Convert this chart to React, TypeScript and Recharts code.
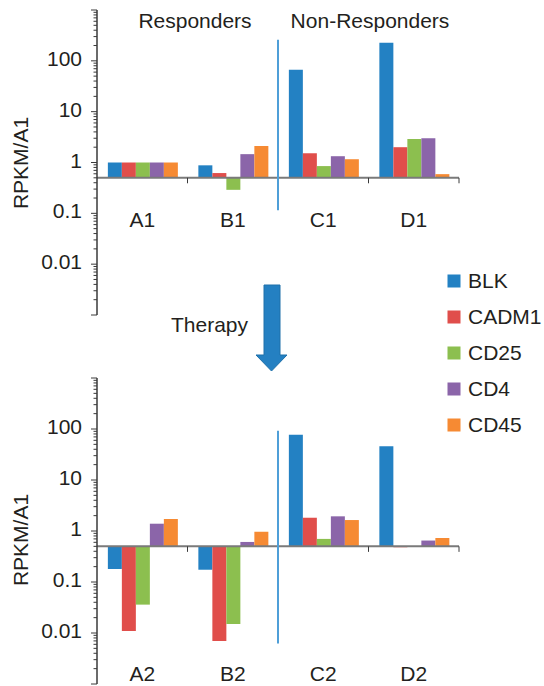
import { Bar, BarChart, ReferenceLine, XAxis, YAxis } from "recharts";

const genes = ["BLK", "CADM1", "CD25", "CD4", "CD45"];
const colors = ["#2381c3", "#e04e4b", "#8cbf4f", "#8b65a9", "#f68a33"];

const beforeSamples = ["A1", "B1", "C1", "D1"];
const afterSamples = ["A2", "B2", "C2", "D2"];

// RPKM relative to A1, one value per sample
const blkBefore = [1.0, 0.88, 67, 228];
const cadm1Before = [1.0, 0.62, 1.52, 2.0];
const cd25Before = [1.0, 0.29, 0.85, 2.9];
const cd4Before = [1.0, 1.46, 1.33, 3.0];
const cd45Before = [1.0, 2.1, 1.16, 0.59];

const blkAfter = [0.18, 0.174, 77, 46];
const cadm1After = [0.011, 0.007, 1.82, 0.48];
const cd25After = [0.036, 0.015, 0.7, null];
const cd4After = [1.39, 0.61, 1.94, 0.65];
const cd45After = [1.72, 0.97, 1.64, 0.73];

const majorTicks = [0.001, 0.01, 0.1, 1, 10, 100, 1000];
const labelledTicks = [0.01, 0.1, 1, 10, 100];

// bars start at 0.5 on the log axis (where the category axis crosses)
const BASE = 0.5;

const FONT = '"Liberation Sans", Arial, sans-serif';
const TEXT = "#231f20";

const minorTicks: number[] = [];
majorTicks.slice(0, -1).forEach((d) => {
  for (let m = 1; m < 10; m++) minorTicks.push(d * m);
});
const yTicks = [...minorTicks, 1000];

function buildRows(samples: string[], series: (number | null)[][]) {
  return samples.map((s, i) => {
    const row: Record<string, any> = { sample: s };
    genes.forEach((g, j) => {
      const v = series[j][i];
      row[g] = v == null ? null : [Math.min(BASE, v), Math.max(BASE, v)];
    });
    return row;
  });
}

const beforeRows = buildRows(beforeSamples, [blkBefore, cadm1Before, cd25Before, cd4Before, cd45Before]);
const afterRows = buildRows(afterSamples, [blkAfter, cadm1After, cd25After, cd4After, cd45After]);

const isMajor = (v: number) => Math.abs(Math.log10(v) - Math.round(Math.log10(v))) < 1e-9;

function LogTick(props: any) {
  const { x, y, payload } = props;
  const v = payload.value as number;
  const major = isMajor(v);
  const label = labelledTicks.find((t) => Math.abs(t - v) / t < 1e-9);
  return (
    <g>
      <line x1={x} x2={x - (major ? 6 : 3.5)} y1={y} y2={y} stroke="#3a3a3a" strokeWidth={1} />
      {label !== undefined && (
        <text x={x - 15} y={y + 5} textAnchor="end" fontSize={21} fill={TEXT} fontFamily={FONT}>
          {String(label)}
        </text>
      )}
    </g>
  );
}

function SampleTick(props: any) {
  const { x, y, payload, shift } = props;
  return (
    <text x={x} y={y + shift} textAnchor="middle" fontSize={21} fill={TEXT} fontFamily={FONT}>
      {payload.value}
    </text>
  );
}

function Panel({ rows, samples, height, top, bottom, shift, sep }: any) {
  const bounds = [
    { cat: samples[1], pos: "start" },
    { cat: samples[2], pos: "start" },
    { cat: samples[3], pos: "start" },
    { cat: samples[3], pos: "end" },
  ];
  return (
    <BarChart
      width={544}
      height={height}
      data={rows}
      margin={{ top, right: 85, bottom, left: 0 }}
      barCategoryGap="12%"
      barGap={0}
    >
      <XAxis
        dataKey="sample"
        height={1}
        axisLine={false}
        tickLine={false}
        tickSize={0}
        tickMargin={0}
        interval={0}
        tick={(p: any) => <SampleTick {...p} shift={shift} />}
      />
      <YAxis
        scale="log"
        domain={[0.001, 1000]}
        allowDataOverflow
        ticks={yTicks}
        interval={0}
        width={97}
        tickSize={0}
        tickMargin={0}
        tickLine={false}
        axisLine={{ stroke: "#3a3a3a", strokeWidth: 1.5 }}
        tick={LogTick}
      />
      {genes.map((g, i) => (
        <Bar key={g} dataKey={g} fill={colors[i]} isAnimationActive={false} />
      ))}
      <ReferenceLine y={BASE} stroke="#7a7a7a" strokeWidth={2} />
      {bounds.map((b, k) => (
        <ReferenceLine
          key={k}
          position={b.pos as any}
          stroke="#3a3a3a"
          strokeWidth={1}
          segment={[
            { x: b.cat, y: BASE },
            { x: b.cat, y: 0.39 },
          ]}
        />
      ))}
      <ReferenceLine
        position="start"
        stroke="#4f9fd8"
        strokeWidth={2}
        segment={[
          { x: samples[2], y: sep[0] },
          { x: samples[2], y: sep[1] },
        ]}
      />
    </BarChart>
  );
}

export default function App() {
  return (
    <div
      style={{
        position: "absolute",
        left: 0,
        top: 0,
        width: 544,
        height: 686,
        overflow: "hidden",
        fontFamily: FONT,
        background: "#fff",
      }}
    >
      <div style={{ position: "absolute", left: 0, top: 0 }}>
        <Panel rows={beforeRows} samples={beforeSamples} height={330} top={10} bottom={14} shift={-88} sep={[260, 0.115]} />
      </div>
      <div style={{ position: "absolute", left: 0, top: 360 }}>
        <Panel rows={afterRows} samples={afterSamples} height={326} top={18} bottom={1} shift={-3} sep={[92, 0.0062]} />
      </div>
      <svg width={544} height={686} style={{ position: "absolute", left: 0, top: 0, pointerEvents: "none" }}>
        <g fontFamily={FONT} fontSize={21} fill={TEXT}>
          <text x={195} y={28} textAnchor="middle">Responders</text>
          <text x={370} y={28} textAnchor="middle">Non-Responders</text>
          <text x={28} y={163} textAnchor="middle" transform="rotate(-90 28 163)">RPKM/A1</text>
          <text x={28} y={540} textAnchor="middle" transform="rotate(-90 28 540)">RPKM/A1</text>
          <text x={248} y={332} textAnchor="end">Therapy</text>
          {genes.map((g, i) => (
            <g key={g}>
              <rect x={447.5} y={274.5 + i * 36} width={13} height={13} fill={colors[i]} />
              <text x={468} y={288 + i * 36}>{g}</text>
            </g>
          ))}
        </g>
        <polygon
          points="264,285 280,285 280,355 287,355 271.5,371 256,355 264,355"
          fill="#2480c2"
          stroke="#1f70aa"
          strokeWidth={1}
        />
      </svg>
    </div>
  );
}
